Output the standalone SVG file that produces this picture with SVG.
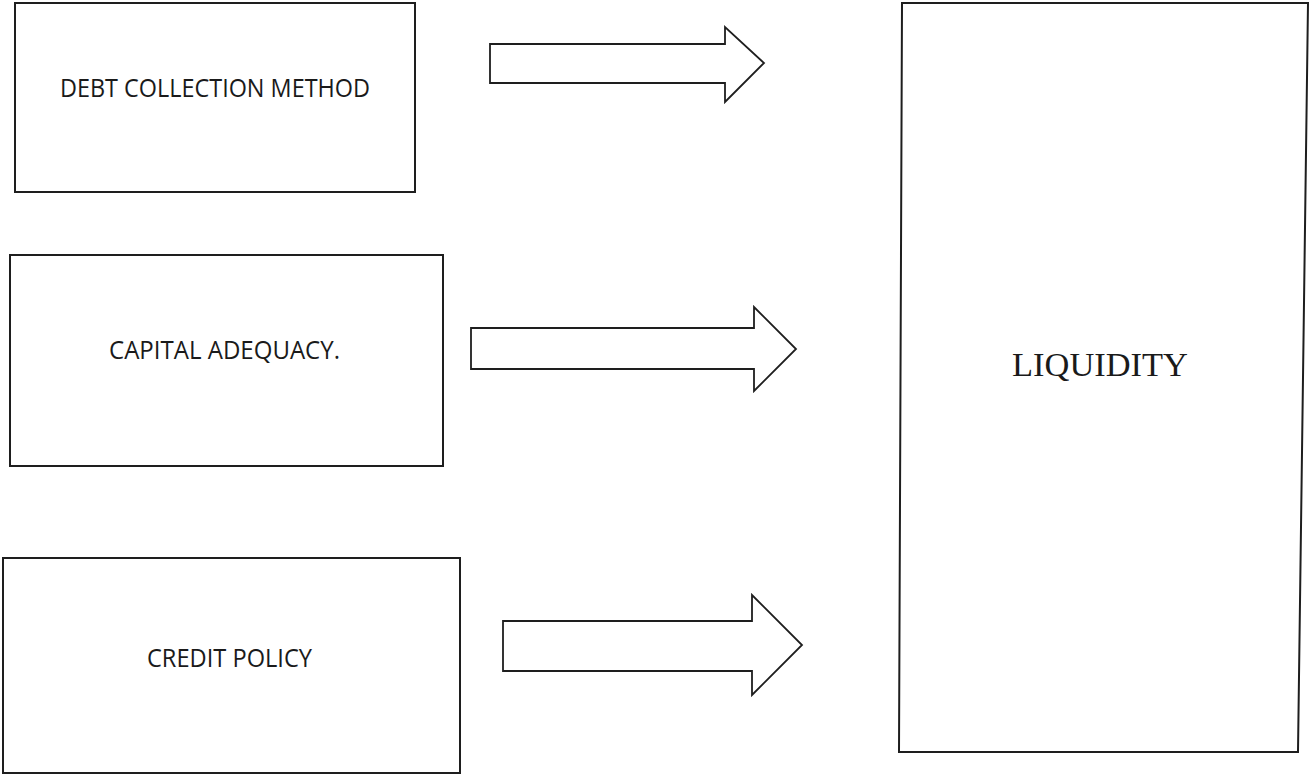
<svg xmlns="http://www.w3.org/2000/svg" width="1310" height="776" viewBox="0 0 1310 776">
<style>
.box{fill:#fff;stroke:#1e1e1e;stroke-width:2}
.arr{fill:#fff;stroke:#1e1e1e;stroke-width:1.8;stroke-linejoin:miter}
.lbl{font-family:"Open Sans","Liberation Sans",sans-serif;font-size:25.5px;fill:#1a1a1a}
.big{font-family:"Liberation Serif","Times New Roman",serif;font-size:34px;fill:#1a1a1a}
</style>
<rect width="1310" height="776" fill="#fff"/>
<g id="node-debt">
<rect class="box" x="15" y="3" width="400" height="189"/>
<text class="lbl" x="60" y="97" textLength="310" lengthAdjust="spacingAndGlyphs">DEBT COLLECTION METHOD</text>
</g>
<g id="node-capital">
<rect class="box" x="10" y="255" width="433" height="211"/>
<text class="lbl" x="109" y="359" textLength="231" lengthAdjust="spacingAndGlyphs">CAPITAL ADEQUACY.</text>
</g>
<g id="node-credit">
<rect class="box" x="3" y="558" width="457" height="215"/>
<text class="lbl" x="147" y="667" textLength="165" lengthAdjust="spacingAndGlyphs">CREDIT POLICY</text>
</g>
<g id="node-liquidity">
<polygon class="box" points="902,3 1308,3 1298,752 899,752"/>
<text class="big" x="1012" y="376" textLength="176" lengthAdjust="spacingAndGlyphs">LIQUIDITY</text>
</g>
<g id="connectors">
<polygon class="arr" points="490,44 725,44 725,27 764,63 725,102 725,83 490,83"/>
<polygon class="arr" points="471,328 754,328 754,307 796,349 754,391 754,369 471,369"/>
<polygon class="arr" points="503,621 752,621 752,595 802,645 752,695 752,671 503,671"/>
</g>
</svg>
